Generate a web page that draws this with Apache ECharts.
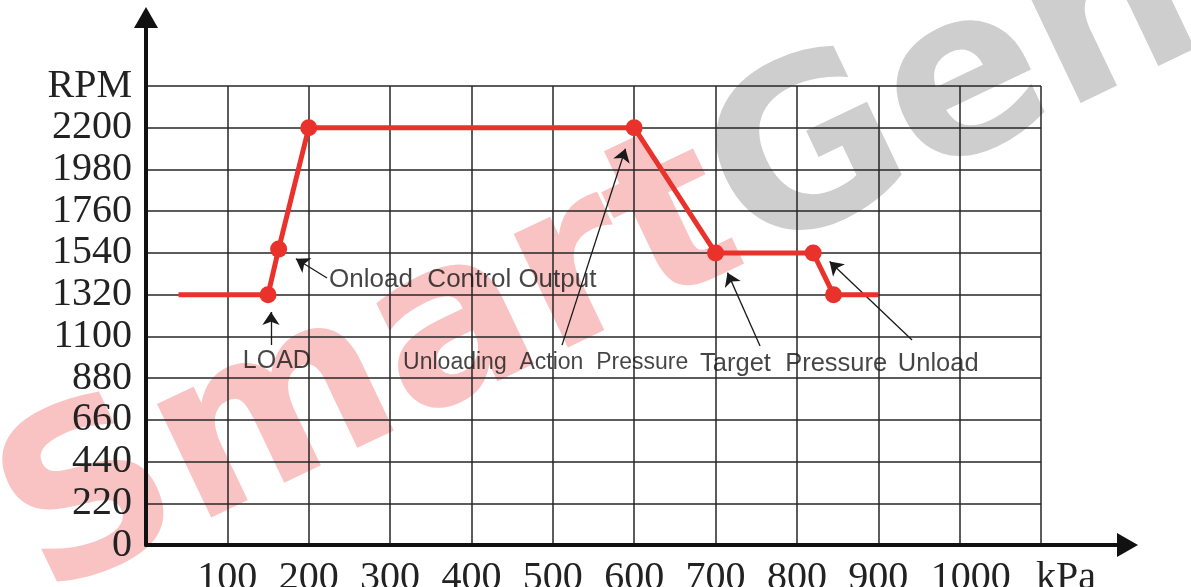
<!DOCTYPE html>
<html>
<head>
<meta charset="utf-8">
<script src="https://cdn.jsdelivr.net/npm/echarts@6/dist/echarts.min.js"></script>
<style>
html,body{margin:0;padding:0;background:#fff;}
#chart{width:1191px;height:587px;}
</style>
</head>
<body>
<div id="chart"></div>
<script>
// ---- data ----
var pressure = [40, 150, 163, 200, 600, 700, 820, 845, 900];       // kPa
var rpm      = [1320, 1320, 1560, 2200, 2200, 1540, 1540, 1320, 1320];
var marked   = [false, true, true, true, true, true, true, true, false];

var xTicks = [0, 100, 200, 300, 400, 500, 600, 700, 800, 900, 1000, 1100];
var xUnit = 'kPa';
var yTicks = [0, 220, 440, 660, 880, 1100, 1320, 1540, 1760, 1980, 2200, 2420];
var yUnit = 'RPM';

// annotation texts: [x, y, text, fontSize]
var noteTexts = [
  [119, 968, 'LOAD', 25],
  [225, 1400, 'Onload  Control Output', 26],
  [316, 960, 'Unloading  Action  Pressure', 23],
  [681, 953, 'Target  Pressure', 25.5],
  [924, 953, 'Unload', 25.5]
];
// annotation arrows: [fromX, fromY, toX, toY]
var noteArrows = [
  [153.6, 1054, 153.6, 1228],
  [222.5, 1408, 184.2, 1509],
  [511.3, 1054, 589.3, 2089],
  [754.7, 1049, 714.7, 1436],
  [941.5, 1081, 840.2, 1495]
];

var watermarkA = 'Smart';
var watermarkB = 'Gen';

// ---- build ----
var lineData = pressure.map(function (p, i) {
  return { value: [p, rpm[i]], symbol: marked[i] ? 'circle' : 'none' };
});
var xMax = xTicks[xTicks.length - 1];
var yMax = yTicks[yTicks.length - 1];

var chart = echarts.init(document.getElementById('chart'));
chart.setOption({
  animation: false,
  backgroundColor: '#ffffff',
  graphic: [{
    type: 'text',
    x: 602, y: 265,
    rotation: 25.5 * Math.PI / 180,
    z: -10,
    silent: true,
    style: {
      text: '{a|' + watermarkA + '}{b|' + watermarkB + '}',
      fontFamily: 'DejaVu Sans',
      fontWeight: 'bold',
      fontSize: 230,
      align: 'center',
      verticalAlign: 'middle',
      rich: {
        a: { fill: '#f9c3c3', fontFamily: 'DejaVu Sans', fontWeight: 'bold', fontSize: 230 },
        b: { fill: '#cecece', fontFamily: 'DejaVu Sans', fontWeight: 'bold', fontSize: 230 }
      }
    }
  }],
  grid: [
    { left: 146, right: 150, top: 86, bottom: 42, containLabel: false, outerBoundsMode: 'none' },
    { left: 146, right: 63.5, top: 17.5, bottom: 42, containLabel: false, outerBoundsMode: 'none' }
  ],
  xAxis: [{
    type: 'value', gridIndex: 0, min: 0, max: xMax, interval: 100,
    axisLine: { show: false },
    axisTick: { show: false },
    splitLine: { show: true, lineStyle: { color: '#262626', width: 1.5 } },
    axisLabel: {
      margin: 13,
      fontFamily: 'Liberation Serif',
      fontSize: 40,
      color: '#222',
      formatter: function (v) {
        if (v === 0) return '';
        if (v === xMax) return '{u|' + xUnit + '}';
        if (v === 1000) return '{t|' + v + '}';
        return String(v);
      },
      rich: {
        u: { fontFamily: 'Liberation Serif', fontSize: 40, color: '#222', padding: [0, 0, 0, 50] },
        t: { fontFamily: 'Liberation Serif', fontSize: 40, color: '#222', padding: [0, 0, 0, 22] }
      }
    }
  }, {
    type: 'value', gridIndex: 1, min: 0, max: 1,
    axisLine: { show: true, symbol: ['none', 'triangle'], symbolSize: [24, 21],
      lineStyle: { color: '#111', width: 4 } },
    axisTick: { show: false }, axisLabel: { show: false }, splitLine: { show: false }
  }],
  yAxis: [{
    type: 'value', gridIndex: 0, min: 0, max: yMax, interval: 220,
    axisLine: { show: false },
    axisTick: { show: false },
    splitLine: { show: true, lineStyle: { color: '#262626', width: 1.5 } },
    axisLabel: {
      margin: 14,
      fontFamily: 'Liberation Serif',
      fontSize: 40,
      color: '#222',
      formatter: function (v) { return v === yMax ? yUnit : String(v); }
    }
  }, {
    type: 'value', gridIndex: 1, min: 0, max: 1,
    axisLine: { show: true, symbol: ['none', 'triangle'], symbolSize: [24, 21],
      lineStyle: { color: '#111', width: 4 } },
    axisTick: { show: false }, axisLabel: { show: false }, splitLine: { show: false }
  }],
  series: [{
    type: 'line',
    xAxisIndex: 0, yAxisIndex: 0,
    data: lineData,
    symbolSize: 17,
    lineStyle: { color: '#e8322b', width: 5 },
    itemStyle: { color: '#e8322b' },
    z: 5
  }, {
    type: 'lines',
    coordinateSystem: 'cartesian2d',
    xAxisIndex: 0, yAxisIndex: 0,
    symbol: ['none', 'arrow'],
    symbolSize: [9, 13],
    lineStyle: { color: '#1a1a1a', width: 1.3, opacity: 1 },
    data: noteArrows.map(function (a) { return { coords: [[a[0], a[1]], [a[2], a[3]]] }; }),
    z: 4
  }, {
    type: 'scatter',
    xAxisIndex: 0, yAxisIndex: 0,
    symbolSize: 1,
    itemStyle: { color: 'rgba(0,0,0,0)' },
    data: noteTexts.map(function (t) {
      return { value: [t[0], t[1]], name: t[2], label: { fontSize: t[3] } };
    }),
    label: {
      show: true,
      position: 'inside',
      align: 'left',
      verticalAlign: 'middle',
      fontFamily: 'Liberation Sans',
      color: '#161616',
      formatter: function (p) { return p.name; }
    },
    z: 6
  }]
});
</script>
</body>
</html>
